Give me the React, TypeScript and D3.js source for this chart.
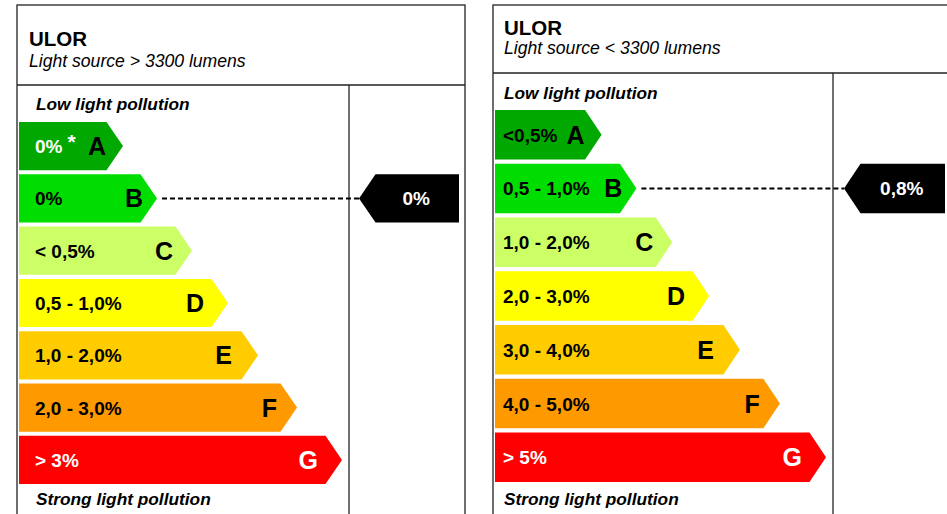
import React from "react";
import * as d3 from "d3";

// ---- data ----
const classes = ["A", "B", "C", "D", "E", "F", "G"];
const barLength = [104, 138, 173, 209, 239, 278, 323]; // relative class-arrow length
const leftLabels = ["0%", "0%", "< 0,5%", "0,5 - 1,0%", "1,0 - 2,0%", "2,0 - 3,0%", "> 3%"];
const rightLabels = ["<0,5%", "0,5 - 1,0%", "1,0 - 2,0%", "2,0 - 3,0%", "3,0 - 4,0%", "4,0 - 5,0%", "> 5%"];
const titles = ["ULOR", "ULOR"];
const subtitles = ["Light source > 3300 lumens", "Light source < 3300 lumens"];
const ratedClass = ["B", "B"];
const ratedValue = ["0%", "0,8%"];
const topNote = "Low light pollution";
const bottomNote = "Strong light pollution";

// ---- styles ----
const classColors = ["#00A800", "#00DD00", "#CCFF66", "#FFFF00", "#FFCC00", "#FF9900", "#FF0000"];
const letterInset = [17, 14, 19, 24, 26, 20, 24];
const FONT = "'Liberation Sans', Arial, Helvetica, sans-serif";

type Layout = {
  x: number; right: number; top: number; headerBottom: number; divider: number;
  barX: number; bandTop: number; bandBottom: number; titleY: number; subY: number;
  lowY: number; strongY: number; textX: number; labelX: number; scaleMax: number;
  indTip: number; indRight: number; whiteA: boolean; star: boolean;
};

const layouts: Layout[] = [
  { x: 17, right: 465, top: 5, headerBottom: 85, divider: 349, barX: 19, bandTop: 122, bandBottom: 484,
    titleY: 46, subY: 67, lowY: 110, strongY: 505, textX: 29, labelX: 35, scaleMax: 323,
    indTip: 359, indRight: 459, whiteA: true, star: true },
  { x: 493, right: 980, top: 5, headerBottom: 73, divider: 833, barX: 495, bandTop: 110, bandBottom: 482,
    titleY: 35, subY: 54, lowY: 99, strongY: 505, textX: 504, labelX: 503, scaleMax: 331,
    indTip: 844, indRight: 945, whiteA: false, star: false },
];

function Panel({ i }: { i: number }) {
  const L = layouts[i];
  const labels = i === 0 ? leftLabels : rightLabels;
  const y = d3.scaleBand<string>().domain(classes).range([L.bandTop, L.bandBottom]).paddingInner(0.08).paddingOuter(0);
  const len = d3.scaleLinear().domain([0, d3.max(barLength) as number]).range([0, L.scaleMax]);
  const bh = y.bandwidth();
  const depth = 16.5;
  const arrow = (x0: number, x1: number, y0: number) => {
    const p = d3.path();
    p.moveTo(x0, y0);
    p.lineTo(x1 - depth, y0);
    p.lineTo(x1, y0 + bh / 2);
    p.lineTo(x1 - depth, y0 + bh);
    p.lineTo(x0, y0 + bh);
    p.closePath();
    return p.toString();
  };
  const rc = ratedClass[i];
  const ri = classes.indexOf(rc);
  const ry = y(rc) as number;
  const rcy = ry + bh / 2;
  const rTip = L.barX + len(barLength[ri]);
  const indPath = (() => {
    const p = d3.path();
    p.moveTo(L.indTip, rcy);
    p.lineTo(L.indTip + depth, ry);
    p.lineTo(L.indRight, ry);
    p.lineTo(L.indRight, ry + bh);
    p.lineTo(L.indTip + depth, ry + bh);
    p.closePath();
    return p.toString();
  })();
  return (
    <g fontFamily={FONT}>
      <rect x={L.x} y={L.top} width={L.right - L.x} height={600} fill="none" stroke="#222" strokeWidth={1.3} />
      <line x1={L.x} x2={L.right} y1={L.headerBottom} y2={L.headerBottom} stroke="#222" strokeWidth={1.3} />
      <line x1={L.divider} x2={L.divider} y1={L.headerBottom} y2={600} stroke="#222" strokeWidth={1.3} />
      <text x={L.textX} y={L.titleY} fontSize={20.5} fontWeight="bold" fill="#000">{titles[i]}</text>
      <text x={L.textX} y={L.subY} fontSize={17.6} fontStyle="italic" fill="#000">{subtitles[i]}</text>
      <text x={L.labelX + 1} y={L.lowY} fontSize={17.3} fontWeight="bold" fontStyle="italic" fill="#000">{topNote}</text>
      <text x={L.labelX + 1} y={L.strongY} fontSize={17.3} fontWeight="bold" fontStyle="italic" fill="#000">{bottomNote}</text>
      {classes.map((c, k) => {
        const y0 = y(c) as number;
        const tip = L.barX + len(barLength[k]);
        const valWhite = k === 6 || (k === 0 && L.whiteA);
        const letWhite = k === 6;
        return (
          <g key={c}>
            <path d={arrow(L.barX, tip, y0)} fill={classColors[k]} />
            <text x={L.labelX} y={y0 + bh / 2 + 7} fontSize={19} fontWeight="bold" fill={valWhite ? "#fff" : "#000"}>
              {labels[k]}
              {k === 0 && L.star ? <tspan dx={5} fontSize={21} dy={-4}>*</tspan> : null}
            </text>
            <text x={tip - letterInset[k]} y={y0 + bh / 2 + 9} fontSize={25} fontWeight="bold" textAnchor="end" fill={letWhite ? "#fff" : "#000"}>{c}</text>
          </g>
        );
      })}
      <line x1={rTip + 5} x2={L.indTip} y1={rcy} y2={rcy} stroke="#000" strokeWidth={2} strokeDasharray="5,3" />
      <path d={indPath} fill="#000" />
      <text x={(L.indTip + depth + L.indRight) / 2 - 1} y={rcy + 7} fontSize={19} fontWeight="bold" fill="#fff" textAnchor="middle">{ratedValue[i]}</text>
    </g>
  );
}

export default function App() {
  return (
    <svg width={947} height={514} style={{ position: "absolute", left: 0, top: 0, background: "#fff" }}>
      <rect width={947} height={514} fill="#fff" />
      <Panel i={0} />
      <Panel i={1} />
    </svg>
  );
}
